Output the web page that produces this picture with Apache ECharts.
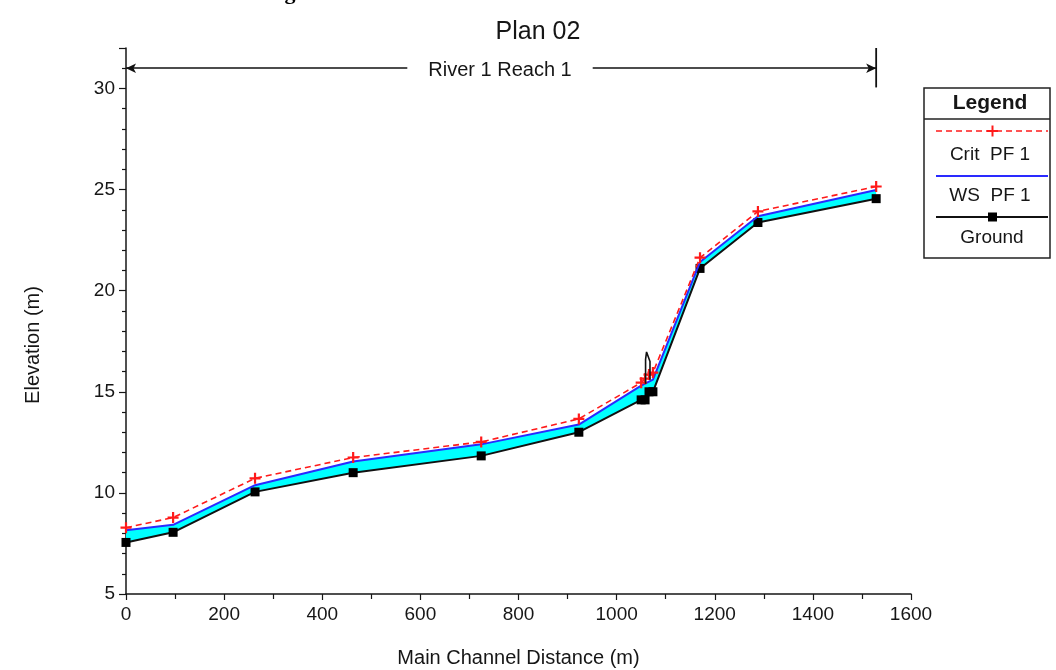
<!DOCTYPE html>
<html>
<head>
<meta charset="utf-8">
<title>Plan 02 – River 1 Reach 1 profile</title>
<script src="https://cdn.jsdelivr.net/npm/echarts@6/dist/echarts.min.js"></script>
<style>
  html, body { margin: 0; padding: 0; background: #fff; }
  #chart { width: 1056px; height: 670px; }
</style>
</head>
<body>
<div id="chart"></div>
<script>
// River stations along the main channel (m)
const stations = [0, 96, 263, 463, 724, 923, 1050, 1058, 1066, 1074, 1170, 1288, 1529];
// Channel bed elevation (m)
const ground   = [7.55, 8.05, 10.05, 11.0, 11.83, 13.0, 14.6, 14.6, 15.0, 15.0, 21.1, 23.37, 24.55];
// Water surface, profile PF 1 (m)
const wsElev   = [8.15, 8.42, 10.38, 11.55, 12.4, 13.38, 15.3, 15.4, 15.5, 15.6, 21.42, 23.68, 24.98];
// Critical depth elevation, profile PF 1 (m)
const critElev = [8.28, 8.78, 10.72, 11.75, 12.52, 13.66, 15.45, 15.65, 15.85, 15.95, 21.63, 23.92, 25.15];
// Bridge deck outline at the structure
const bridgeX  = [1059, 1059, 1061, 1064, 1068, 1068];
const bridgeY  = [15.4, 16.6, 16.97, 16.95, 16.5, 15.6];
// Axis ranges and tick spacing
const xAxisRange = [0, 1600];
const xStep = 200;
const yAxisRange = [5, 32];
const yStep = 5;
// Reach marker: elevation of the arrow and extent of the end bar
const reachY = 31;
const reachBar = [30.05, 32];

const FONT = "'Liberation Sans', Arial, sans-serif";
const INK = '#161616';

const pairs = (xs, ys) => xs.map((x, i) => [x, ys[i]]);
const lastStation = stations[stations.length - 1];

const chart = echarts.init(document.getElementById('chart'), null, { renderer: 'canvas' });

chart.setOption({
  animation: false,
  backgroundColor: '#ffffff',
  grid: { left: 126, right: 145, top: 48, bottom: 76, outerBoundsMode: 'none' },
  xAxis: {
    type: 'value',
    min: xAxisRange[0], max: xAxisRange[1], interval: xStep,
    name: 'Main Channel Distance (m)',
    nameLocation: 'middle', nameGap: 54,
    nameTextStyle: { fontFamily: FONT, fontSize: 20, color: INK },
    axisLine: { show: true, onZero: false, lineStyle: { color: INK, width: 1.5 } },
    axisTick: { show: true, length: 6, lineStyle: { color: INK, width: 1.2 } },
    minorTick: { show: true, splitNumber: 2, length: 5, lineStyle: { color: INK, width: 1.2 } },
    axisLabel: { margin: 11, fontFamily: FONT, fontSize: 19, color: INK, formatter: v => String(v) },
    splitLine: { show: false }
  },
  yAxis: {
    type: 'value',
    min: yAxisRange[0], max: yAxisRange[1], interval: yStep,
    axisLine: { show: true, onZero: false, lineStyle: { color: INK, width: 1.5 } },
    axisTick: { show: true, length: 7, lineStyle: { color: INK, width: 1.2 } },
    minorTick: { show: true, splitNumber: 5, length: 4, lineStyle: { color: INK, width: 1.2 } },
    axisLabel: { margin: 11, fontFamily: FONT, fontSize: 19, color: INK, showMaxLabel: false },
    splitLine: { show: false }
  },
  graphic: [
    // caption descender at the top edge of the page
    { type: 'text', x: 290, y: 4, z: 100,
      style: { text: 'g', fontFamily: "'Liberation Serif', serif", fontWeight: 'bold', fontSize: 22,
               fill: '#000', align: 'center', verticalAlign: 'bottom' } },
    { type: 'text', x: 538, y: 32, z: 100,
      style: { text: 'Plan 02', fontFamily: FONT, fontSize: 25, fill: INK, align: 'center', verticalAlign: 'middle' } },
    { type: 'text', x: 500, y: 70, z: 100,
      style: { text: 'River 1 Reach 1', fontFamily: FONT, fontSize: 20, fill: INK, align: 'center', verticalAlign: 'middle',
               backgroundColor: '#ffffff', padding: [2, 21, 2, 21] } },
    { type: 'text', x: 33, y: 345, rotation: Math.PI / 2, z: 100,
      style: { text: 'Elevation (m)', fontFamily: FONT, fontSize: 20, fill: INK, align: 'center', verticalAlign: 'middle' } },
    // legend box
    { type: 'group', z: 100, children: [
      { type: 'rect', shape: { x: 924, y: 88, width: 126, height: 170 },
        style: { fill: '#ffffff', stroke: '#222', lineWidth: 1.5 } },
      { type: 'line', shape: { x1: 924, y1: 119, x2: 1050, y2: 119 }, style: { stroke: '#222', lineWidth: 1.5 } },
      { type: 'text', x: 990, y: 103,
        style: { text: 'Legend', fontFamily: FONT, fontWeight: 'bold', fontSize: 21, fill: INK, align: 'center', verticalAlign: 'middle' } },
      { type: 'line', shape: { x1: 936, y1: 131, x2: 1048, y2: 131 },
        style: { stroke: '#ff1a1a', lineWidth: 1.6, lineDash: [6, 4] } },
      { type: 'line', shape: { x1: 987, y1: 131, x2: 998, y2: 131 }, style: { stroke: '#ff1a1a', lineWidth: 2 } },
      { type: 'line', shape: { x1: 992.5, y1: 125.5, x2: 992.5, y2: 136.5 }, style: { stroke: '#ff1a1a', lineWidth: 2 } },
      { type: 'text', x: 990, y: 155,
        style: { text: 'Crit  PF 1', fontFamily: FONT, fontSize: 19, fill: INK, align: 'center', verticalAlign: 'middle' } },
      { type: 'line', shape: { x1: 936, y1: 176, x2: 1048, y2: 176 }, style: { stroke: '#2a2aff', lineWidth: 2 } },
      { type: 'text', x: 990, y: 196,
        style: { text: 'WS  PF 1', fontFamily: FONT, fontSize: 19, fill: INK, align: 'center', verticalAlign: 'middle' } },
      { type: 'line', shape: { x1: 936, y1: 217, x2: 1048, y2: 217 }, style: { stroke: '#111', lineWidth: 1.8 } },
      { type: 'rect', shape: { x: 988, y: 212.5, width: 9, height: 9 }, style: { fill: '#000' } },
      { type: 'text', x: 992, y: 238,
        style: { text: 'Ground', fontFamily: FONT, fontSize: 19, fill: INK, align: 'center', verticalAlign: 'middle' } }
    ] }
  ],
  series: [
    {
      // flow area between the bed and the water surface
      name: 'flow',
      type: 'custom',
      coordinateSystem: 'cartesian2d',
      silent: true,
      z: 1,
      data: [[stations[0], ground[0]]],
      renderItem: function (params, api) {
        const top = stations.map((s, i) => api.coord([s, wsElev[i]]));
        const bottom = stations.map((s, i) => api.coord([s, ground[i]])).reverse();
        return { type: 'polygon', shape: { points: top.concat(bottom) }, style: { fill: '#00ffff' } };
      }
    },
    {
      name: 'Ground',
      type: 'line',
      z: 3,
      data: pairs(stations, ground),
      symbol: 'rect', symbolSize: 9, showAllSymbol: true,
      itemStyle: { color: '#000' },
      lineStyle: { color: '#111', width: 2 }
    },
    {
      name: 'WS  PF 1',
      type: 'line',
      z: 4,
      data: pairs(stations, wsElev),
      symbol: 'none',
      lineStyle: { color: '#2a2aff', width: 2 }
    },
    {
      name: 'Crit  PF 1',
      type: 'line',
      z: 5,
      data: pairs(stations, critElev),
      symbol: 'path://M4,0H6V4H10V6H6V10H4V6H0V4H4Z', symbolSize: 11, showAllSymbol: true,
      itemStyle: { color: '#ff1a1a' },
      lineStyle: { color: '#ff1a1a', width: 1.6, type: [6, 4] }
    },
    {
      name: 'bridge',
      type: 'line',
      z: 6,
      data: pairs(bridgeX, bridgeY),
      symbol: 'none',
      lineStyle: { color: '#111', width: 1.6 },
      markLine: {
        silent: true,
        animation: false,
        symbol: ['arrow', 'arrow'],
        symbolSize: [7, 10],
        label: { show: false },
        lineStyle: { color: '#111', width: 1.6, type: 'solid' },
        data: [
          [ { coord: [stations[0], reachY] }, { coord: [lastStation, reachY] } ]
        ]
      }
    },
    {
      // end bar of the reach marker
      name: 'reach end',
      type: 'line',
      z: 6,
      data: [[lastStation, reachBar[0]], [lastStation, reachBar[1]]],
      symbol: 'none',
      silent: true,
      lineStyle: { color: '#111', width: 1.8 }
    }
  ]
});
</script>
</body>
</html>
